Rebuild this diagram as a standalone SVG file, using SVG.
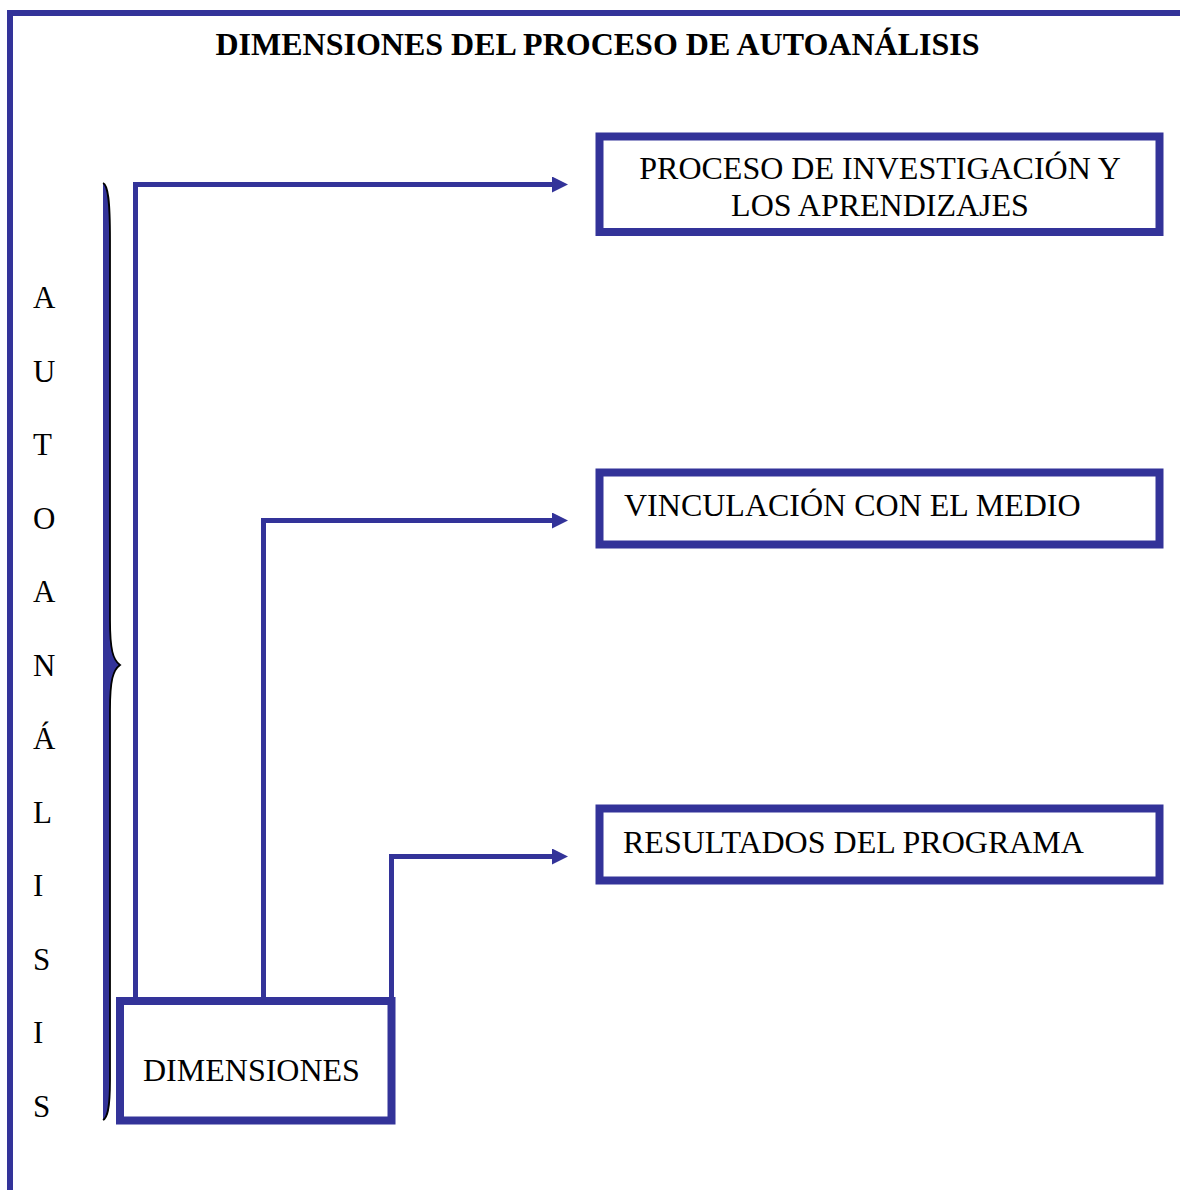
<svg xmlns="http://www.w3.org/2000/svg" width="1180" height="1190" viewBox="0 0 1180 1190">
<defs>
<style>
.t{font-family:"Liberation Serif","Times New Roman",serif;fill:#000}
.title{font-size:32px;font-weight:bold}
.lbl{font-size:32px}
.v{font-size:31px}
.box{fill:#fff;stroke:#333399;stroke-width:8}
.con{fill:none;stroke:#333399;stroke-width:5}
.frame{fill:none;stroke:#333399;stroke-width:6}
</style>
<marker id="ah" viewBox="0 0 16 16" refX="1" refY="8" markerWidth="16" markerHeight="16" markerUnits="userSpaceOnUse" orient="auto">
<path d="M0,0 L16,8 L0,16 Z" fill="#333399"/>
</marker>
</defs>
<rect width="1180" height="1190" fill="#fff"/>
<g id="frame">
<path class="frame" d="M10,1190 L10,13 L1180,13"/>
</g>
<text class="t title" x="597.5" y="55" text-anchor="middle">DIMENSIONES DEL PROCESO DE AUTOANÁLISIS</text>
<g id="brace">
<path d="M103,183 C108,185 110,200 110,240 L110,620 C110,650 113,660 120,665 C113,670 110,680 110,710 L110,1080 C110,1110 107,1118 103,1120 Z" fill="#333399"/>
<path d="M103,183 C108,185 110,200 110,240 L110,620 C110,650 113,660 120,665 C113,670 110,680 110,710 L110,1080 C110,1110 107,1118 103,1120" fill="none" stroke="#000" stroke-width="1.8"/>
</g>
<g id="vertical-label" class="t v">
<text x="33" y="308">A</text>
<text x="33" y="381.5">U</text>
<text x="33" y="455">T</text>
<text x="33" y="528.5">O</text>
<text x="33" y="602">A</text>
<text x="33" y="675.5">N</text>
<text x="33" y="749">Á</text>
<text x="33" y="822.5">L</text>
<text x="33" y="896">I</text>
<text x="33" y="969.5">S</text>
<text x="33" y="1043">I</text>
<text x="33" y="1116.5">S</text>
</g>
<g id="connectors">
<path class="con" d="M135.5,1000 L135.5,184.5 L553,184.5" marker-end="url(#ah)"/>
<path class="con" d="M263.5,1000 L263.5,520.5 L553,520.5" marker-end="url(#ah)"/>
<path class="con" d="M391.5,1000 L391.5,856.5 L553,856.5" marker-end="url(#ah)"/>
</g>
<g id="node-dimensiones">
<rect class="box" x="120" y="1001" width="271.5" height="119.5"/>
<text class="t lbl" x="143" y="1081">DIMENSIONES</text>
</g>
<g id="node-investigacion">
<rect class="box" x="599.5" y="136.5" width="560" height="95.5"/>
<text class="t lbl" x="880" y="179" text-anchor="middle">PROCESO DE INVESTIGACIÓN Y</text>
<text class="t lbl" x="880" y="216" text-anchor="middle">LOS APRENDIZAJES</text>
</g>
<g id="node-vinculacion">
<rect class="box" x="599.5" y="472.5" width="560" height="72"/>
<text class="t lbl" x="624" y="516">VINCULACIÓN CON EL MEDIO</text>
</g>
<g id="node-resultados">
<rect class="box" x="599.5" y="808.5" width="560" height="72"/>
<text class="t lbl" x="623" y="853">RESULTADOS DEL PROGRAMA</text>
</g>
</svg>
